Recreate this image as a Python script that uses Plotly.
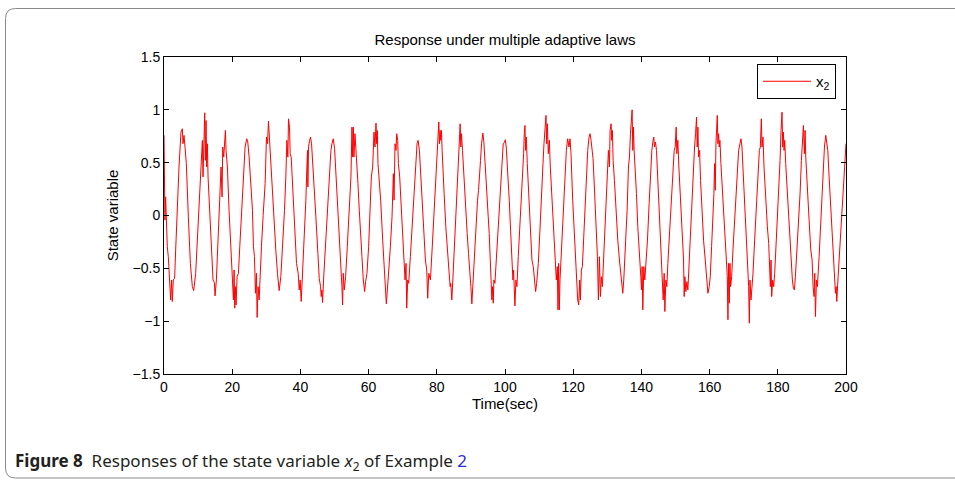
import plotly.graph_objects as go

# ---- data (time in sec, state variable x2) ----
t_seg1 = [0.0, 0.28, 0.48, 0.68, 0.97, 1.26, 1.65, 1.95, 2.24, 2.44, 2.73, 3.12, 3.42, 3.81, 4.40, 4.98, 5.38, 5.57, 5.87, 6.16,
          6.55, 7.14, 7.73, 8.31, 8.71, 9.29, 9.68, 10.27, 10.86, 11.25, 11.45, 11.74, 11.94, 12.13, 12.33, 12.52, 12.72, 12.92,
          13.21, 13.80, 14.38, 14.78, 14.97, 15.36, 15.76, 16.34, 16.73, 17.03, 17.22, 17.52, 17.81, 18.01, 18.20, 18.59, 19.08,
          19.57, 20.06, 20.36, 20.55, 20.75, 20.95, 21.14, 21.43, 21.83, 22.22, 22.71, 23.30, 23.78, 24.27, 24.57, 24.96, 25.45,
          25.94, 26.23, 26.53, 26.82, 27.11, 27.31, 27.60, 27.90, 28.19, 28.58, 29.07, 29.66, 30.05, 30.35, 30.64, 30.84, 31.03,
          31.42, 32.01, 32.40, 32.79, 33.28, 33.77, 34.26, 34.75, 35.34, 35.73, 36.03, 36.32, 36.52, 36.81, 37.00, 37.30, 37.69,
          38.28, 38.86, 39.35]
x2_seg1 = [0.758, -0.044, 0.176, -0.075, -0.296, -0.390, -0.626, -0.799, -0.610, -0.814, -0.610, -0.594, -0.327, 0.0, 0.459, 0.789,
           0.821, 0.679, 0.758, 0.648, 0.491, -0.013, -0.453, -0.673, -0.711, -0.547, -0.296, 0.050, 0.333, 0.711, 0.365, 0.947,
           0.972, 0.522, 0.899, 0.459, 0.679, 0.365, 0.145, -0.233, -0.610, -0.635, -0.761, -0.610, -0.327, 0.050, 0.459, 0.176,
           0.648, 0.553, 0.789, 0.805, 0.616, 0.459, 0.050, -0.264, -0.484, -0.799, -0.516, -0.877, -0.673, -0.846, -0.579,
           -0.547, -0.296, 0.019, 0.333, 0.648, 0.726, 0.695, 0.553, 0.333, 0.050, -0.296, -0.390, -0.736, -0.547, -0.965,
           -0.673, -0.799, -0.547, -0.296, 0.0, 0.302, 0.742, 0.679, 0.893, 0.774, 0.601, 0.491, 0.145, -0.138, -0.327, -0.547,
           -0.711, -0.579, -0.327, 0.050, 0.365, 0.711, 0.553, 0.915, 0.836, 0.585, 0.553, 0.270, -0.138, -0.453, -0.547]

t_seg2 = [39.65, 39.94, 40.23, 40.53, 40.92, 41.41, 41.60, 41.90, 42.09, 42.19, 42.39, 42.68, 42.98, 43.27, 43.86, 44.54, 45.13,
          45.52, 45.91, 46.11, 46.30, 46.50, 46.79, 47.28, 47.87, 48.46, 48.95, 49.24, 49.63, 50.03, 50.51, 51.00, 51.40, 51.89,
          52.18, 52.38, 52.57, 52.87, 53.26, 53.75, 54.33, 54.82, 55.12, 55.31, 55.51, 55.70, 56.00, 56.29, 56.59, 56.88, 57.27,
          57.66, 58.05, 58.45, 58.84, 59.13, 59.52, 60.01, 60.40, 60.80, 61.19, 61.58, 61.87, 62.17, 62.36, 62.56, 62.75, 63.15,
          63.54, 64.13, 64.62, 64.91, 65.20, 65.50, 65.89, 66.38, 66.87, 67.26, 67.46, 67.75, 68.04, 68.24, 68.53, 68.73, 69.12,
          69.71, 70.29, 70.69, 70.98, 71.18, 71.47, 71.76, 72.25, 72.74, 73.33, 73.72, 74.21, 74.51, 74.90, 75.49, 76.07, 76.66,
          77.05, 77.34, 77.64, 78.13, 78.62, 79.11, 79.60, 80.09]
x2_seg2 = [-0.704, -0.610, -0.814, -0.610, -0.327, -0.075, 0.145, 0.459, 0.616, 0.270, 0.648, 0.711, 0.742, 0.679, 0.396, -0.013,
           -0.358, -0.594, -0.673, -0.767, -0.704, -0.824, -0.610, -0.327, 0.050, 0.333, 0.616, 0.679, 0.726, 0.632, 0.365, 0.050,
           -0.233, -0.516, -0.673, -0.846, -0.547, -0.704, -0.579, -0.296, 0.050, 0.365, 0.836, 0.553, 0.836, 0.553, 0.774, 0.648,
           0.459, 0.302, 0.050, -0.233, -0.390, -0.610, -0.720, -0.626, -0.547, -0.296, -0.013, 0.365, 0.459, 0.789, 0.648, 0.874,
           0.679, 0.805, 0.491, 0.333, 0.145, -0.233, -0.516, -0.673, -0.836, -0.704, -0.547, -0.296, -0.013, 0.396, 0.145, 0.679,
           0.616, 0.774, 0.711, 0.491, 0.365, 0.019, -0.327, -0.610, -0.453, -0.877, -0.610, -0.642, -0.390, -0.107, 0.208, 0.459,
           0.679, 0.711, 0.616, 0.270, -0.075, -0.421, -0.516, -0.783, -0.547, -0.610, -0.327, -0.013, 0.365, 0.679]

t_seg3 = [80.39, 80.59, 80.78, 80.98, 81.17, 81.37, 81.56, 81.76, 82.15, 82.64, 83.13, 83.52, 83.91, 84.11, 84.40, 84.70, 85.09,
          85.58, 85.87, 86.26, 86.56, 86.85, 87.05, 87.24, 87.54, 87.93, 88.42, 88.91, 89.30, 89.69, 89.99, 90.28, 90.57, 90.96,
          91.45, 91.94, 92.24, 92.53, 92.82, 93.12, 93.51, 93.80, 94.10, 94.59, 95.08, 95.37, 95.66, 95.96, 96.15, 96.35, 96.55,
          96.74, 97.04, 97.33, 97.82, 98.31, 98.70, 99.09, 99.48, 99.88, 100.07, 100.37, 100.76, 101.25, 101.64, 102.03, 102.32,
          102.52, 102.71, 102.91, 103.20, 103.50, 103.89, 104.38, 104.87, 105.26, 105.46, 105.65, 105.85, 106.04, 106.24, 106.53,
          107.02, 107.51, 107.90, 108.30, 108.59, 108.98, 109.28, 109.77, 110.25, 110.74, 111.14, 111.43, 111.72, 112.02, 112.21,
          112.41, 112.70, 113.00, 113.29, 113.68, 114.17, 114.66, 115.05, 115.35, 115.54, 115.74, 115.93, 116.13, 116.62, 117.11,
          117.60, 117.99, 118.38, 118.77, 119.07]
x2_seg3 = [0.742, 0.884, 0.679, 0.805, 0.711, 0.805, 0.616, 0.428, 0.208, -0.107, -0.327, -0.547, -0.673, -0.642, -0.799, -0.610,
           -0.358, -0.075, 0.145, 0.491, 0.679, 0.868, 0.648, 0.774, 0.616, 0.365, 0.050, -0.170, -0.358, -0.610, -0.673, -0.836,
           -0.642, -0.516, -0.170, 0.145, 0.239, 0.459, 0.522, 0.679, 0.780, 0.695, 0.553, 0.239, -0.013, -0.170, -0.390, -0.579,
           -0.799, -0.673, -0.830, -0.610, -0.642, -0.484, -0.201, -0.013, 0.270, 0.522, 0.679, 0.695, 0.717, 0.648, 0.459, 0.145,
           -0.138, -0.390, -0.610, -0.516, -0.736, -0.855, -0.610, -0.673, -0.390, -0.107, 0.176, 0.459, 0.585, 0.774, 0.852,
           0.616, 0.742, 0.491, 0.208, -0.170, -0.421, -0.484, -0.610, -0.720, -0.642, -0.453, -0.138, 0.145, 0.491, 0.679, 0.836,
           0.947, 0.679, 0.868, 0.585, 0.711, 0.459, 0.208, -0.107, -0.421, -0.610, -0.484, -0.893, -0.453, -0.893, -0.610,
           -0.264, -0.044, 0.302, 0.616, 0.726, 0.648, 0.726]

t_seg4 = [119.36, 119.85, 120.34, 120.73, 121.02, 121.32, 121.61, 121.91, 122.10, 122.40, 122.69, 123.08, 123.47, 123.86, 124.26,
          124.65, 124.94, 125.24, 125.53, 125.82, 126.21, 126.70, 127.10, 127.39, 127.68, 127.98, 128.27, 128.56, 128.96, 129.45,
          129.94, 130.33, 130.62, 130.82, 131.11, 131.31, 131.50, 131.70, 132.09, 132.58, 133.07, 133.56, 133.95, 134.24, 134.54,
          134.83, 135.32, 135.81, 136.20, 136.50, 136.79, 136.99, 137.28, 137.48, 137.67, 137.87, 138.16, 138.55, 138.94, 139.43,
          139.83, 140.02, 140.22, 140.41, 140.71, 141.00, 141.39, 141.78, 142.27, 142.66, 143.06, 143.35, 143.64, 143.84, 144.13,
          144.43, 145.01, 145.41, 145.80, 146.09, 146.39, 146.68, 146.88, 147.17, 147.46, 147.76, 148.25, 148.74, 149.23, 149.62,
          149.91, 150.20, 150.40, 150.69, 150.99, 151.48, 151.97, 152.36, 152.55, 152.75, 153.04, 153.34, 153.63, 154.12, 154.61,
          155.10, 155.59, 155.88, 156.18, 156.37, 156.57, 156.77, 157.06, 157.35, 157.74, 158.23, 158.72, 159.12, 159.51]
x2_seg4 = [0.585, 0.145, -0.170, -0.421, -0.610, -0.799, -0.846, -0.610, -0.799, -0.516, -0.484, -0.201, 0.145, 0.365, 0.616,
           0.742, 0.774, 0.711, 0.648, 0.538, 0.270, -0.107, -0.390, -0.799, -0.390, -0.767, -0.579, -0.673, -0.390, -0.075,
           0.270, 0.616, 0.459, 0.805, 0.868, 0.711, 0.805, 0.522, 0.333, 0.019, -0.233, -0.421, -0.579, -0.635, -0.736, -0.610,
           -0.327, 0.050, 0.459, 0.553, 0.774, 0.899, 1.000, 0.616, 0.836, 0.616, 0.459, 0.208, -0.107, -0.327, -0.579, -0.704,
           -0.484, -0.893, -0.484, -0.610, -0.421, -0.233, 0.113, 0.396, 0.616, 0.695, 0.742, 0.648, 0.695, 0.616, 0.208, -0.013,
           -0.264, -0.516, -0.799, -0.547, -0.909, -0.610, -0.673, -0.453, -0.170, 0.145, 0.428, 0.616, 0.648, 0.836, 0.585,
           0.711, 0.459, 0.145, -0.170, -0.421, -0.767, -0.579, -0.720, -0.626, -0.704, -0.327, -0.013, 0.365, 0.648, 0.774,
           0.931, 0.648, 0.836, 0.553, 0.616, 0.333, 0.050, -0.233, -0.421, -0.547, -0.736]

t_seg5 = [159.90, 160.19, 160.58, 160.97, 161.27, 161.46, 161.66, 161.86, 162.05, 162.25, 162.44, 162.64, 162.84, 163.03, 163.32,
          163.81, 164.30, 164.79, 165.19, 165.38, 165.58, 165.77, 165.97, 166.16, 166.46, 166.85, 167.34, 167.73, 168.12, 168.51,
          168.91, 169.20, 169.49, 169.89, 170.38, 170.77, 171.06, 171.26, 171.45, 171.65, 171.84, 172.14, 172.43, 172.73, 173.21,
          173.70, 174.19, 174.59, 174.88, 175.17, 175.37, 175.66, 175.96, 176.45, 176.94, 177.33, 177.62, 177.82, 178.01, 178.21,
          178.50, 178.80, 179.09, 179.48, 179.97, 180.36, 180.66, 180.95, 181.24, 181.44, 181.64, 181.83, 182.03, 182.32, 182.81,
          183.30, 183.79, 184.28, 184.57, 184.87, 185.16, 185.55, 186.04, 186.53, 186.92, 187.22, 187.51, 187.80, 188.00, 188.20,
          188.69, 189.18, 189.67, 190.06, 190.35, 190.64, 190.84, 191.04, 191.33, 191.62, 192.11, 192.60, 192.99, 193.39, 193.68,
          194.07, 194.37, 194.66, 195.05, 195.54, 196.03, 196.32, 196.62, 196.91, 197.11, 197.30, 197.69, 198.18, 198.67, 199.16,
          199.55, 199.85, 200.0]
x2_seg5 = [-0.673, -0.579, -0.296, -0.044, 0.208, 0.491, 0.239, 0.679, 0.774, 0.947, 0.679, 0.774, 0.648, 0.711, 0.491, 0.176,
           -0.107, -0.358, -0.579, -0.987, -0.453, -0.830, -0.453, -0.673, -0.579, -0.327, -0.044, 0.176, 0.459, 0.616, 0.679,
           0.726, 0.648, 0.396, 0.050, -0.170, -0.327, -0.421, -0.673, -1.019, -0.610, -0.799, -0.673, -0.547, -0.233, 0.050,
           0.333, 0.616, 0.648, 0.915, 0.648, 0.742, 0.459, 0.145, -0.107, -0.264, -0.484, -0.673, -0.421, -0.767, -0.610, -0.673,
           -0.547, -0.296, 0.019, 0.302, 0.522, 0.805, 0.978, 0.648, 0.789, 0.616, 0.711, 0.491, 0.208, -0.107, -0.390, -0.610,
           -0.689, -0.704, -0.579, -0.358, -0.138, 0.208, 0.522, 0.648, 0.852, 0.585, 0.805, 0.553, 0.302, -0.044, -0.327, -0.421,
           -0.673, -0.767, -0.547, -0.956, -0.610, -0.673, -0.390, -0.075, 0.239, 0.491, 0.648, 0.758, 0.679, 0.616, 0.365, 0.050,
           -0.296, -0.358, -0.610, -0.736, -0.673, -0.814, -0.579, -0.296, -0.013, 0.270, 0.459, 0.648, 0.680]

time_sec = t_seg1 + t_seg2 + t_seg3 + t_seg4 + t_seg5
x2 = x2_seg1 + x2_seg2 + x2_seg3 + x2_seg4 + x2_seg5

x_ticks = [0, 20, 40, 60, 80, 100, 120, 140, 160, 180, 200]
y_ticks = [-1.5, -1, -0.5, 0, 0.5, 1, 1.5]
y_tick_labels = ["\u22121.5", "\u22121", "\u22120.5", "0", "0.5", "1", "1.5"]

title_text = "Response under multiple adaptive laws"
x_label = "Time(sec)"
y_label = "State variable"
caption = ("<b>Figure 8</b>  Responses of the state variable <i>x</i><sub>2</sub> of Example "
           "<span style='color:#2b2bd9'>2</span>")

W, H = 955, 486
L, R, T, B = 164, 846, 57, 374
pw, ph = R - L, B - T

def px(xp):
    return (xp - L) / pw

def py(yp):
    return (B - yp) / ph

fig = go.Figure()
fig.add_trace(go.Scatter(x=time_sec, y=x2, mode="lines", name="x<sub>2</sub>",
                         line=dict(color="#ff0000", width=1)))

font_main = "Liberation Sans, Arial, sans-serif"
axis_common = dict(showline=True, linecolor="black", linewidth=1, mirror="ticks",
                   ticks="inside", ticklen=5, tickcolor="black", showgrid=False, zeroline=False,
                   tickfont=dict(family=font_main, size=14, color="black"))

fig.update_layout(
    width=W, height=H,
    margin=dict(l=L, r=W - R, t=T, b=H - B),
    paper_bgcolor="white", plot_bgcolor="white",
    font=dict(family=font_main, size=14, color="black"),
    title=dict(text=title_text, x=px(505), xref="paper", xanchor="center",
               y=1 - 40 / H, yref="container", yanchor="middle",
               font=dict(family=font_main, size=15, color="black")),
    xaxis=dict(range=[0, 200], tickvals=x_ticks,
               title=dict(text=x_label, standoff=3, font=dict(family=font_main, size=15)),
               **axis_common),
    yaxis=dict(range=[-1.5, 1.5], tickvals=y_ticks, ticktext=y_tick_labels,
               title=dict(text=y_label, standoff=10, font=dict(family=font_main, size=15)),
               **axis_common),
    showlegend=True,
    legend=dict(x=px(757), y=py(64), xanchor="left", yanchor="top",
                bordercolor="black", borderwidth=1, bgcolor="white",
                font=dict(family=font_main, size=15, color="black"),
                itemwidth=48, tracegroupgap=0),
)

# frame around the figure: top and bottom rules plus a rounded left side
frame_col = "#8a8a8a"
lx, tx, bx, rx = px(5.5), py(8.5), py(478), px(955)
dx, dy = 10 / pw, 10 / ph
fig.add_shape(type="line", xref="paper", yref="paper", x0=lx + dx, x1=rx, y0=tx, y1=tx,
              line=dict(color=frame_col, width=1), layer="below")
fig.add_shape(type="line", xref="paper", yref="paper", x0=lx + dx, x1=rx, y0=bx, y1=bx,
              line=dict(color=frame_col, width=1), layer="below")
left_path = (f"M {lx + dx},{tx} Q {lx},{tx} {lx},{tx - dy} "
             f"L {lx},{bx + dy} Q {lx},{bx} {lx + dx},{bx}")
fig.add_shape(type="path", path=left_path, xref="paper", yref="paper",
              line=dict(color=frame_col, width=1), layer="below")

fig.add_annotation(text=caption, xref="paper", yref="paper", x=px(13), y=py(461),
                   xanchor="left", yanchor="middle", showarrow=False,
                   font=dict(family="Noto Sans, Open Sans, sans-serif", size=17, color="#231f20"))

fig.write_html("out.html", config={"displayModeBar": False},
               post_script=("document.body.style.margin='0';"
                            "document.body.style.overflow='hidden';"
                            "document.documentElement.style.overflow='hidden';"))
